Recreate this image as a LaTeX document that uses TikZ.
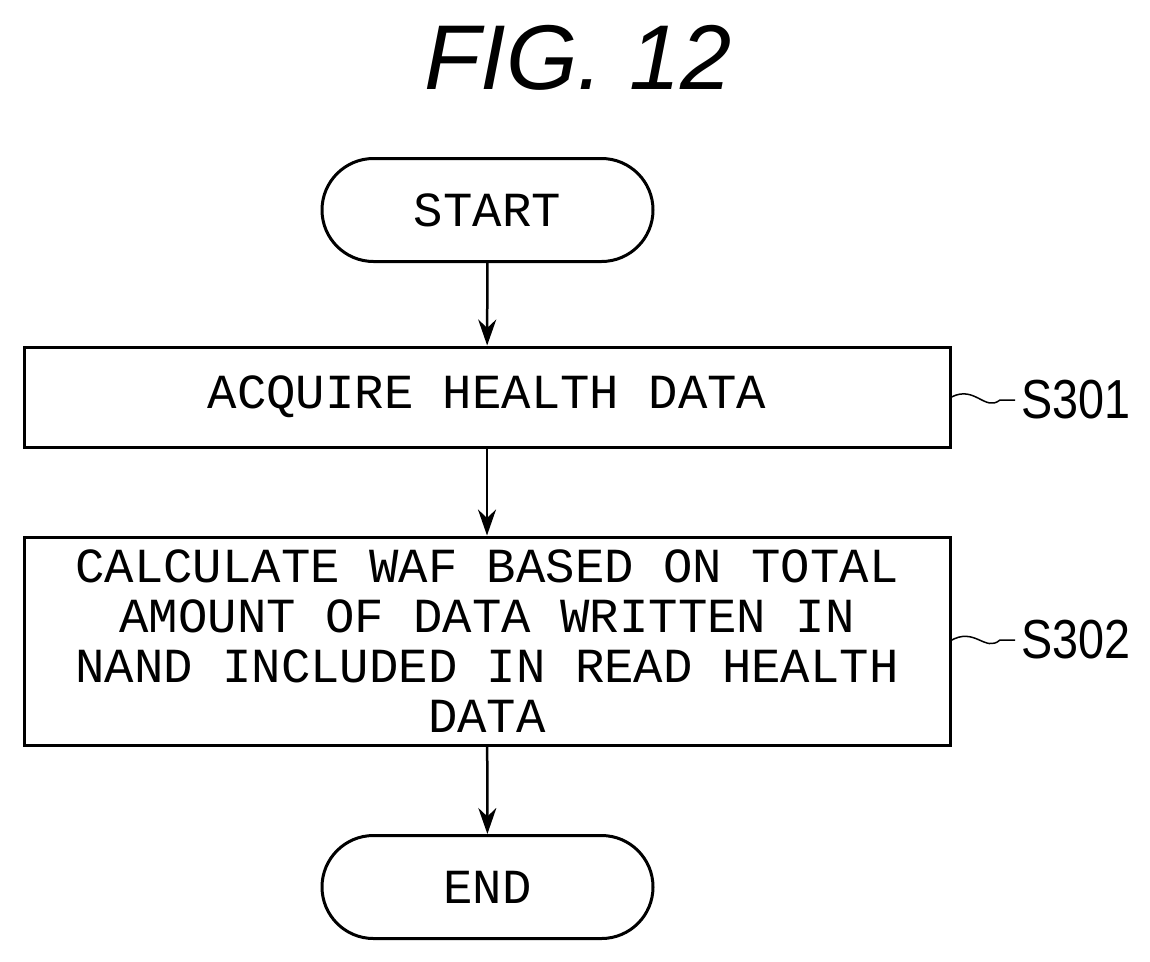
\documentclass[tikz,border=0pt]{standalone}
\usepackage{fontspec}
\setmainfont{Liberation Sans}
\newfontfamily\monof{Liberation Mono}
\usetikzlibrary{arrows.meta,shapes.misc}
\begin{document}
\begin{tikzpicture}[x=1pt,y=-1pt,
  box/.style={draw,line width=3pt,inner sep=0pt,font=\monof\fontsize{49}{50}\selectfont,align=center},
  term/.style={box,rounded rectangle,minimum width=331pt,minimum height=103pt},
  stepbox/.style={box,minimum width=926pt},
  arr/.style={line width=2.5pt,-{Stealth[length=26pt,width=18pt]}},
  lab/.style={font=\fontsize{55}{55}\selectfont,xscale=0.85,anchor=west},
  sq/.style={line width=1.5pt}]
\useasboundingbox (0,0) rectangle (1150,961);
\node[font=\itshape\fontsize{92}{92}\selectfont] (title) at (578,58) {FIG. 12};
\node[term] (start) at (487.5,210) {START};
\node[stepbox,minimum height=100pt] (s1) at (487,397) {ACQUIRE HEALTH DATA};
\node[stepbox,minimum height=208pt] (s2) at (487,641) {CALCULATE WAF BASED ON TOTAL\\AMOUNT OF DATA WRITTEN IN\\NAND INCLUDED IN READ HEALTH\\DATA};
\node[term] (end) at (487.5,887) {END};
\draw[arr] (start) -- (s1);
\draw[arr] (s1) -- (s2);
\draw[arr] (s2) -- (end);
\node[lab] (l1) at (1018,400) {S301};
\node[lab] (l2) at (1018,640) {S302};
\draw[sq] (s1.east) .. controls (975,385) and (985,412) .. (1000,400) -- (1015,400);
\draw[sq] (950,641) .. controls (975,626) and (985,653) .. (1000,640) -- (1015,640);
\end{tikzpicture}
\end{document}
